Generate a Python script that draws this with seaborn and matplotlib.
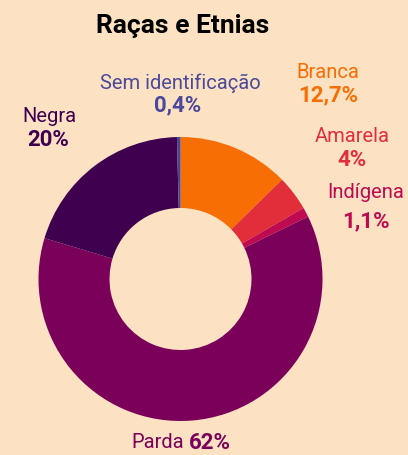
import matplotlib
matplotlib.use("Agg")
import matplotlib.pyplot as plt
import seaborn as sns

# dados
categorias = ["Branca", "Amarela", "Indígena", "Parda", "Negra", "Sem identificação"]
valores = [12.7, 4, 1.1, 62, 20, 0.4]
rotulos_valor = ["12,7%", "4%", "1,1%", "62%", "20%", "0,4%"]
cores = ["#F76E05", "#E22E3A", "#BE0A50", "#7B005A", "#3F0050", "#46459A"]

sns.set_style("white")
plt.rcParams["font.family"] = ["Roboto", "DejaVu Sans"]

fundo = "#FCE1C3"
fig = plt.figure(figsize=(4.08, 4.55), dpi=100, facecolor=fundo)
ax = fig.add_axes([0, 0, 1, 1])
ax.set_facecolor(fundo)

# rosca (eixo y invertido -> sentido horário)
ax.pie(valores, colors=cores, startangle=-90, counterclock=True,
       center=(180.5, 279), radius=142,
       wedgeprops=dict(width=71, linewidth=0), frame=True)
ax.set_xlim(0, 408)
ax.set_ylim(455, 0)
ax.set_aspect("equal")
ax.axis("off")

ax.text(183, 26, "Raças e Etnias", ha="center", va="center",
        fontsize=19, fontweight="bold", color="black")

# rótulos (nome, valor): posições
pos = {
    "Branca": (328, 72, 328, 95),
    "Amarela": (352, 136, 352, 160),
    "Indígena": (366, 192, 366, 221),
    "Negra": (49, 117, 48, 140),
    "Sem identificação": (180, 83, 178, 105),
}
for cat, val, cor in zip(categorias, rotulos_valor, cores):
    if cat == "Parda":
        ax.text(184, 443, cat, ha="right", va="center", fontsize=14.5,
                fontweight="normal", color=cor)
        ax.text(189, 443, val, ha="left", va="center", fontsize=16,
                fontweight="bold", color=cor)
        continue
    x1, y1, x2, y2 = pos[cat]
    cor_txt = "#4B4A9A" if cat == "Sem identificação" else cor
    ax.text(x1, y1, cat, ha="center", va="center", fontsize=14.5,
            fontweight="normal", color=cor_txt)
    ax.text(x2, y2, val, ha="center", va="center", fontsize=16,
            fontweight="bold", color=cor_txt)

fig.savefig("out.png", dpi=100, facecolor=fundo)
